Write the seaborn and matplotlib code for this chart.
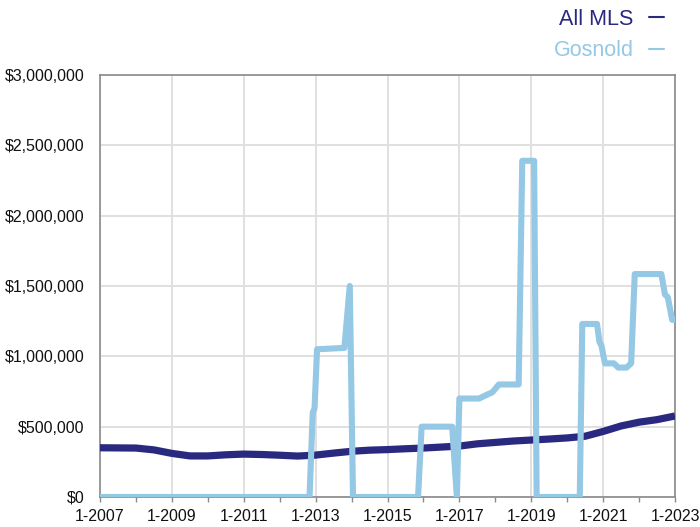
import matplotlib
matplotlib.use("Agg")
import matplotlib.pyplot as plt
from matplotlib.lines import Line2D
from matplotlib.ticker import FuncFormatter, MultipleLocator
import seaborn as sns
import pandas as pd

# ---- data (decimal year, price in $) ----
mls_year = [2007.0, 2008.0, 2008.5, 2009.0, 2009.5, 2010.0, 2010.5, 2011.0, 2011.5,
            2012.0, 2012.5, 2013.0, 2013.5, 2014.0, 2014.5, 2015.0, 2015.5, 2016.0,
            2016.5, 2017.0, 2017.5, 2018.0, 2018.5, 2019.0, 2019.5, 2020.0, 2020.5,
            2021.0, 2021.5, 2022.0, 2022.5, 2023.0]
mls_price = [350000, 348000, 335000, 310000, 292000, 292000, 300000, 305000, 302000,
             297000, 291000, 298000, 312000, 325000, 333000, 337000, 343000, 348000,
             355000, 362000, 378000, 388000, 398000, 405000, 412000, 420000, 432000,
             466000, 505000, 532000, 550000, 576000]

gos_year = [2007.0, 2012.83, 2012.92, 2012.97, 2013.04, 2013.8, 2013.95, 2014.04,
            2015.85, 2015.95, 2016.8, 2016.93, 2017.0, 2017.55, 2017.75, 2017.92,
            2018.1, 2018.65, 2018.75, 2019.08, 2019.15, 2020.35, 2020.42, 2020.83,
            2020.9, 2020.95, 2021.05, 2021.3, 2021.42, 2021.65, 2021.78, 2021.88,
            2022.62, 2022.72, 2022.8, 2022.92, 2023.0]
gos_price = [0, 0, 600000, 630000, 1050000, 1060000, 1500000, 0,
             0, 500000, 500000, 0, 700000, 700000, 725000, 745000,
             800000, 800000, 2390000, 2390000, 0, 0, 1230000, 1230000,
             1100000, 1080000, 950000, 950000, 920000, 920000, 950000, 1585000,
             1585000, 1440000, 1420000, 1260000, 1260000]

tick_years = list(range(2007, 2024, 2))
tick_labels = [f"1-{y}" for y in tick_years]

series_names = ["All MLS", "Gosnold"]
colors = {"All MLS": "#29297f", "Gosnold": "#94c8e4"}

mls_df = pd.DataFrame({"year": mls_year, "price": mls_price})
gos_df = pd.DataFrame({"year": gos_year, "price": gos_price})

sns.set_theme(style="white")
plt.rcParams["font.family"] = ["Liberation Sans", "DejaVu Sans"]

fig = plt.figure(figsize=(7.0, 5.27), dpi=100)
ax = fig.add_axes([100 / 700, 1 - 497 / 527, 575 / 700, 422 / 527])

sns.lineplot(data=mls_df, x="year", y="price", ax=ax, color=colors["All MLS"],
             linewidth=5.2, zorder=3, solid_joinstyle="round", solid_capstyle="butt")
sns.lineplot(data=gos_df, x="year", y="price", ax=ax, color=colors["Gosnold"],
             linewidth=4.4, zorder=4, solid_joinstyle="round", solid_capstyle="butt")

ax.set_xlim(2007, 2023)
ax.set_ylim(0, 3000000)
ax.set_xticks(tick_years)
ax.set_xticklabels(tick_labels)
ax.xaxis.set_minor_locator(MultipleLocator(1))
ax.yaxis.set_major_locator(MultipleLocator(500000))
ax.yaxis.set_major_formatter(FuncFormatter(lambda v, p: f"${v:,.0f}"))
ax.set_xlabel("")
ax.set_ylabel("")

ax.grid(True, axis="both", which="major", color="#e0e0e0", linewidth=1.4, zorder=0)
ax.set_axisbelow(True)
for s in ax.spines.values():
    s.set_color("#8a8a8a")
    s.set_linewidth(1.2)
    s.set_visible(True)

ax.tick_params(axis="x", which="both", direction="out", length=3.5, width=1.0,
               color="#8a8a8a", labelsize=11.5, pad=5, labelcolor="#111111", bottom=True)
ax.tick_params(axis="y", which="both", length=0, labelsize=11.5, pad=11,
               labelcolor="#111111")

handles = [Line2D([0], [0], color=colors[n], lw=1.5) for n in series_names]
leg = fig.legend(handles, series_names, loc="upper right",
                 bbox_to_anchor=(664 / 700, 1 - 9 / 527), frameon=False,
                 fontsize=15.5, markerfirst=False, handlelength=0.7,
                 handletextpad=0.7, labelspacing=0.47, borderpad=0, borderaxespad=0)
for t, n in zip(leg.get_texts(), series_names):
    t.set_color(colors[n])

fig.savefig("out.png", dpi=100)
